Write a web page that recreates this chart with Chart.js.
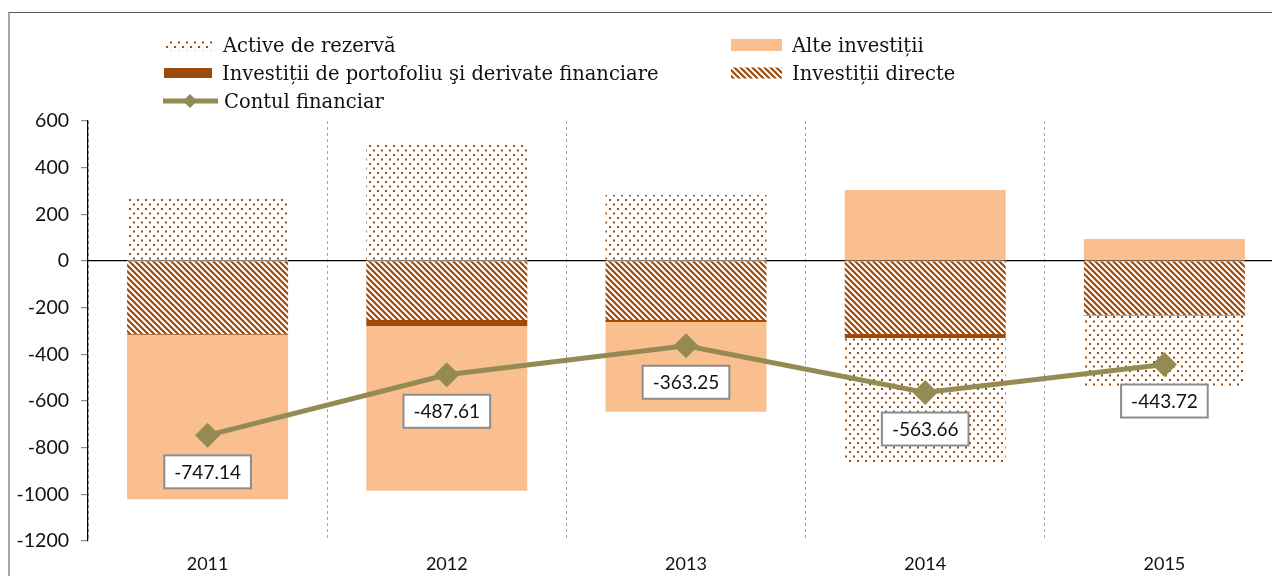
<!DOCTYPE html>
<html>
<head>
<meta charset="utf-8">
<script src="https://cdn.jsdelivr.net/npm/chart.js@4.4.1/dist/chart.umd.min.js"></script>
<style>
    html, body { margin: 0; padding: 0; background: #fff; overflow: hidden; }
    body { width: 1272px; height: 576px; position: relative; }
    #frame { position: absolute; left: 8px; top: 12px; width: 1300px; height: 600px;
             border-left: 2px solid #a6a6a6; border-top: 1px solid #595959; }
    #wrap { position: absolute; left: 0; top: 0; width: 1300px; height: 576px; }
    #legend { position: absolute; left: 0; top: 0; width: 1272px; height: 120px;
              font-family: "DejaVu Serif", serif; font-size: 19.5px; color: #111; }
    .item { position: absolute; display: flex; align-items: center; height: 28px; white-space: nowrap; }
    .item canvas { margin-right: 10px; }
</style>
</head>
<body>
<div id="frame"></div>
<div id="wrap"><canvas id="chart"></canvas></div>
<div id="legend"></div>
<script>
// date din grafic
const ani = ['2011', '2012', '2013', '2014', '2015'];
const activeRezerva = [274, 497, 283, -537.7, -303.7];
const alteInvestitii = [-705.1, -705.6, -385.3, 304, 94];
const portofoliu = [-3, -26, -8, -17, -3];
const investitiiDirecte = [-313, -253, -253, -313, -231];
const contulFinanciar = [-747.14, -487.61, -363.25, -563.66, -443.72];
const yTicks = [600, 400, 200, 0, -200, -400, -600, -800, -1000, -1200];

const brown = '#9e4a0a';
const orange = '#fabf8f';
const olive = '#948a54';

// model cu puncte
function dotPattern(ctx) {
    const c = document.createElement('canvas');
    c.width = 8; c.height = 9;
    const g = c.getContext('2d');
    g.fillStyle = '#fff';
    g.fillRect(0, 0, 8, 9);
    g.fillStyle = brown;
    g.fillRect(1, 1, 2, 2);
    g.fillRect(5, 5.5, 2, 2);
    return ctx.createPattern(c, 'repeat');
}

// model cu linii diagonale
function hatchPattern(ctx) {
    const s = 6;
    const c = document.createElement('canvas');
    c.width = s; c.height = s;
    const g = c.getContext('2d');
    g.fillStyle = '#fff';
    g.fillRect(0, 0, s, s);
    g.strokeStyle = brown;
    g.lineWidth = 2.2;
    g.beginPath();
    g.moveTo(-1, -1); g.lineTo(s + 1, s + 1);
    g.moveTo(-1, s - 1); g.lineTo(1, s + 1);
    g.moveTo(s - 1, -1); g.lineTo(s + 1, 1);
    g.stroke();
    return ctx.createPattern(c, 'repeat');
}

const canvas = document.getElementById('chart');
const ctx = canvas.getContext('2d');
const dots = dotPattern(ctx);
const hatch = hatchPattern(ctx);

// etichete pentru contul financiar
const boxLabels = {
    id: 'boxLabels',
    afterDatasetsDraw(chart) {
        const meta = chart.getDatasetMeta(4);
        const c = chart.ctx;
        c.save();
        c.font = '19px Lato, "Open Sans", sans-serif';
        c.textAlign = 'center';
        c.textBaseline = 'middle';
        meta.data.forEach(function (pt, i) {
            const txt = contulFinanciar[i].toFixed(2);
            const w = c.measureText(txt).width + 20;
            const h = 33;
            const x = pt.x - w / 2;
            const y = pt.y + 20;
            c.fillStyle = '#fff';
            c.fillRect(x, y, w, h);
            c.strokeStyle = '#8c8c8c';
            c.lineWidth = 2;
            c.strokeRect(x, y, w, h);
            c.fillStyle = '#111';
            c.fillText(txt, pt.x, y + h / 2 + 1);
        });
        c.restore();
    }
};

const chart = new Chart(ctx, {
    type: 'bar',
    data: {
        labels: ani,
        datasets: [
            { label: 'Investiții directe', data: investitiiDirecte, backgroundColor: hatch, stack: 'b', order: 1 },
            { label: 'Investiții de portofoliu şi derivate financiare', data: portofoliu, backgroundColor: brown, stack: 'b', order: 1 },
            { label: 'Alte investiții', data: alteInvestitii, backgroundColor: orange, stack: 'b', order: 1 },
            { label: 'Active de rezervă', data: activeRezerva, backgroundColor: dots, stack: 'b', order: 1 },
            {
                label: 'Contul financiar', type: 'line', data: contulFinanciar, stack: 'l', order: 0,
                borderColor: olive, borderWidth: 5, backgroundColor: olive,
                pointStyle: 'rectRot', pointRadius: 9, pointHoverRadius: 9, tension: 0
            }
        ]
    },
    options: {
        responsive: true,
        maintainAspectRatio: false,
        animation: false,
        layout: { padding: { left: 0, right: 16, top: 121, bottom: 0 } },
        datasets: { bar: { barPercentage: 1, categoryPercentage: 0.673 } },
        plugins: {
            legend: { display: false },
            tooltip: { enabled: false }
        },
        scales: {
            x: {
                stacked: true,
                grid: { offset: true, color: '#a6a6a6', drawTicks: false },
                border: { display: false, dash: [3, 3] },
                ticks: { color: '#111', padding: 12, font: { family: 'Lato, "Open Sans", sans-serif', size: 18 } },
                afterFit: function (s) { s.height = 35; }
            },
            y: {
                stacked: true,
                min: -1200,
                max: 600,
                afterBuildTicks: function (s) { s.ticks = yTicks.map(function (v) { return { value: v }; }); },
                grid: {
                    color: function (c) { return c.tick && c.tick.value === 0 ? '#000' : 'rgba(0,0,0,0)'; },
                    lineWidth: 1.2,
                    tickColor: '#8c8c8c',
                    tickLength: 7
                },
                border: { color: '#000', width: 1.2 },
                ticks: {
                    color: '#111', padding: 12,
                    font: { family: 'Lato, "Open Sans", sans-serif', size: 19.5 },
                    callback: function (v) { return String(v); }
                },
                afterFit: function (s) { s.width = 88; }
            }
        }
    },
    plugins: [boxLabels]
});

// legenda HTML
const legendItems = [
    { ds: 3, x: 165, y: 31, w: 48, h: 11 },
    { ds: 2, x: 731, y: 31, w: 51, h: 12 },
    { ds: 1, x: 164, y: 59, w: 48, h: 10 },
    { ds: 0, x: 731, y: 59, w: 51, h: 11 },
    { ds: 4, x: 163, y: 87, w: 55, h: 14 }
];
const legendEl = document.getElementById('legend');
legendItems.forEach(function (it) {
    const ds = chart.data.datasets[it.ds];
    const div = document.createElement('div');
    div.className = 'item';
    div.style.left = it.x + 'px';
    div.style.top = it.y + 'px';
    const sw = document.createElement('canvas');
    sw.width = it.w; sw.height = 18;
    const g = sw.getContext('2d');
    if (ds.type === 'line') {
        g.strokeStyle = olive; g.lineWidth = 5;
        g.beginPath(); g.moveTo(0, 9); g.lineTo(it.w, 9); g.stroke();
        g.fillStyle = olive;
        g.beginPath(); g.moveTo(27, 2); g.lineTo(34, 9); g.lineTo(27, 16); g.lineTo(20, 9); g.closePath(); g.fill();
        sw.style.marginRight = '6px';
    } else {
        g.fillStyle = ds.backgroundColor;
        g.fillRect(0, 9 - it.h / 2, it.w, it.h);
    }
    div.appendChild(sw);
    const span = document.createElement('span');
    span.textContent = ds.label;
    div.appendChild(span);
    legendEl.appendChild(div);
});
</script>
</body>
</html>
